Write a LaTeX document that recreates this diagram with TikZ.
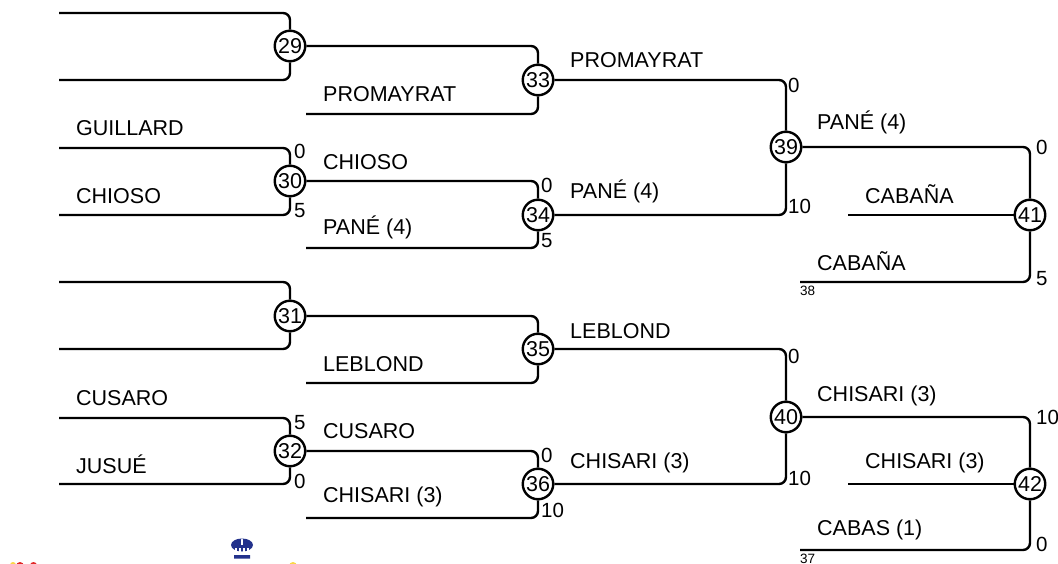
\documentclass[tikz,border=0pt]{standalone}
\usepackage{fontspec}
\setmainfont{Liberation Sans}
\usepackage{tikz}
\definecolor{crownblue}{RGB}{35,50,140}
\definecolor{logored}{RGB}{225,40,40}
\definecolor{logoyellow}{RGB}{250,215,70}
\tikzset{
	game/.style={draw,line width=2.4pt,circle,fill=white,minimum size=30.5pt,inner sep=0pt,font=\fontsize{21.5}{25}\selectfont},
	wire/.style={line width=2.4pt,rounded corners=7pt},
	player/.style={anchor=base west,inner sep=0pt,font=\fontsize{21.5}{25}\selectfont},
	score/.style={anchor=base west,inner sep=0pt,font=\fontsize{20.5}{24}\selectfont},
	tiny/.style={anchor=base west,inner sep=0pt,font=\fontsize{13.5}{15}\selectfont}
}
\begin{document}
\begin{tikzpicture}[x=1pt,y=-1pt]
	\useasboundingbox (0,0) rectangle (1058,564);
	% free ends
	\foreach \n/\x/\y in {a1/59/13,a2/59/80,a3/59/148,a4/59/215,a5/59/282,a6/59/349,a7/59/418,a8/59/484,
		b1/306/114,b2/306/248,b3/306/383,b4/306/518,c1/848/215,c2/800/282,c3/848/484,c4/800/550}
		\coordinate (\n) at (\x,\y);
	% games
	\foreach \n/\x/\y in {29/290/46,30/290/181,31/290/316,32/290/451,33/538/80,34/538/215,35/538/349,36/538/484,
		39/786/147,40/786/417,41/1030/215,42/1030/484}
		\node[game] (g\n) at (\x,\y) {\n};
	% first round
	\foreach \p/\q/\g in {a1/a2/29,a3/a4/30,a5/a6/31,a7/a8/32,b1/b1/33,b2/b2/34,b3/b3/35,b4/b4/36}
		\draw[wire] (\p) -| (g\g) (\q) -| (g\g);
	\draw[wire] (g29) -| (g33);
	\draw[wire] (g30) -| (g34);
	\draw[wire] (g31) -| (g35);
	\draw[wire] (g32) -| (g36);
	\draw[wire] (g33) -| (g39);
	\draw[wire] (g34) -| (g39);
	\draw[wire] (g35) -| (g40);
	\draw[wire] (g36) -| (g40);
	\draw[wire] (g39) -| (g41);
	\draw[wire] (c2) -| (g41);
	\draw[wire] (c1) -- (g41);
	\draw[wire] (g40) -| (g42);
	\draw[wire] (c4) -| (g42);
	\draw[wire] (c3) -- (g42);
	% names
	\foreach \x/\y/\t in {76/136/GUILLARD,76/204/CHIOSO,76/405/CUSARO,76/473/JUSUÉ,
		323/102/PROMAYRAT,323/170/CHIOSO,323/235/PANÉ (4),323/371/LEBLOND,323/438/CUSARO,323/502/CHISARI (3),
		570/68/PROMAYRAT,570/199/PANÉ (4),570/338/LEBLOND,570/468/CHISARI (3),
		817/130/PANÉ (4),865/204/CABAÑA,817/270/CABAÑA,817/401/CHISARI (3),865/468/CHISARI (3),817/535/CABAS (1)}
		\node[player] at (\x,\y) {\t};
	% results
	\foreach \x/\y/\t in {294/159/0,294/218/5,294/429/5,294/488/0,541/193/0,541/248/5,541/462/0,541/517/10,
		788/93/0,788/214/10,788/363/0,788/485/10,1036/155/0,1036/286/5,1036/424/10,1036/551/0}
		\node[score] at (\x,\y) {\t};
	\node[tiny] at (800,295) {38};
	\node[tiny] at (800,563) {37};
	% logo
	\fill[crownblue] (242,545) ellipse (11 and 6.5) (234,555) rectangle (250,558.5) (240.8,539) rectangle (243.2,545);
	\draw[white,line width=1.2pt] (236,548) -- (236,555) (240,548) -- (240,555) (244,548) -- (244,555) (248,548) -- (248,555);
	\fill[logoyellow] (13,565) circle (3) (293,566) circle (4);
	\fill[logored] (20,566) ellipse (4 and 4) (33.5,565.5) circle (3.5);
\end{tikzpicture}
\end{document}
